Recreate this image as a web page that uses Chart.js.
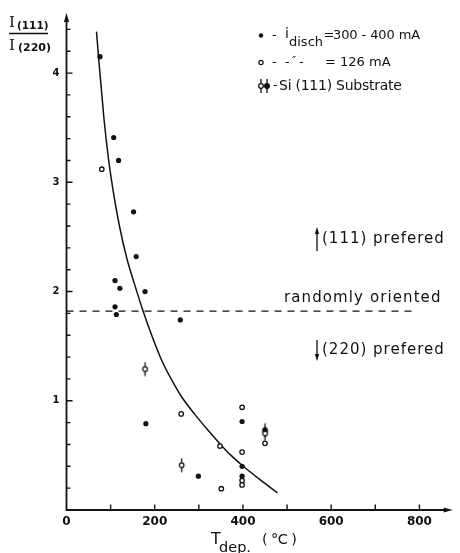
<!DOCTYPE html>
<html>
<head>
<meta charset="utf-8">
<script src="https://cdn.jsdelivr.net/npm/chart.js@4/dist/chart.umd.min.js"></script>
<style>
  html, body { margin: 0; padding: 0; background: #fff; }
  canvas { display: block; }
</style>
</head>
<body>
<canvas id="chart" width="460" height="553"></canvas>
<script>
// Deposition temperature (°C) against the XRD intensity ratio I(111)/I(220)

// discharge current 300-400 mA (filled dots)
const highCurrentT = [76, 107, 118, 152, 158, 110, 121, 178, 110, 113, 258, 180, 398, 299, 398, 398];
const highCurrentR = [4.15, 3.41, 3.20, 2.73, 2.32, 2.10, 2.03, 2.00, 1.86, 1.79, 1.74, 0.79, 0.81, 0.31, 0.40, 0.31];

// discharge current 126 mA (open circles)
const lowCurrentT = [80, 260, 398, 348, 398, 450, 398, 398, 351];
const lowCurrentR = [3.12, 0.88, 0.94, 0.585, 0.53, 0.61, 0.27, 0.23, 0.195];

// films grown on Si(111) substrates (marker with a vertical bar)
const siSubstrateT = [178, 261, 450, 450];
const siSubstrateR = [1.29, 0.41, 0.73, 0.70];
const siSubstrateFilled = [false, false, true, false];

// hand-drawn trend curve
const trendT = [68, 73, 85, 95, 105, 120, 137, 154, 172, 195, 217, 240, 262, 290, 322, 348, 373, 398, 438, 478];
const trendR = [4.38, 4.13, 3.58, 3.22, 2.94, 2.60, 2.30, 2.07, 1.84, 1.58, 1.36, 1.18, 1.03, 0.88, 0.725, 0.605, 0.50, 0.41, 0.28, 0.157];

// ratio of a randomly oriented powder
const randomLevel = 1.82;
const randomSpanT = [0, 787];

const xTickLabels = [0, 200, 400, 600, 800];
const yTickLabels = [1, 2, 3, 4];

const INK = '#111';
const SANS = '"DejaVu Sans", sans-serif';
const SERIF = '"DejaVu Serif", serif';

function toPoints(xs, ys) {
  return xs.map((x, i) => ({ x: x, y: ys[i] }));
}

// circle with a vertical bar through it, used as the Si(111) marker
function drawBarMarker(g, cx, cy, filled) {
  g.save();
  g.strokeStyle = INK;
  g.lineWidth = 1.3;
  g.beginPath(); g.moveTo(cx, cy - 7); g.lineTo(cx, cy + 7); g.stroke();
  g.beginPath(); g.arc(cx, cy, 2.3, 0, Math.PI * 2);
  g.fillStyle = filled ? INK : '#fff';
  g.fill(); g.stroke();
  g.restore();
}
function barMarker(filled) {
  const c = document.createElement('canvas');
  c.width = 9; c.height = 17;
  drawBarMarker(c.getContext('2d'), 4.5, 8.5, filled);
  return c;
}
const openBar = barMarker(false);
const filledBar = barMarker(true);

function textRun(ctx, x, y, str, font, spacing) {
  ctx.font = font;
  ctx.letterSpacing = (spacing || 0) + 'px';
  ctx.fillText(str, x, y);
  const w = ctx.measureText(str).width;
  ctx.letterSpacing = '0px';
  return x + w;
}

function arrowHead(ctx, tipX, tipY, dir, len, half) {
  ctx.beginPath();
  if (dir === 'up') {
    ctx.moveTo(tipX, tipY); ctx.lineTo(tipX - half, tipY + len); ctx.lineTo(tipX + half, tipY + len);
  } else if (dir === 'down') {
    ctx.moveTo(tipX, tipY); ctx.lineTo(tipX - half, tipY - len); ctx.lineTo(tipX + half, tipY - len);
  } else {
    ctx.moveTo(tipX, tipY); ctx.lineTo(tipX - len, tipY - half); ctx.lineTo(tipX - len, tipY + half);
  }
  ctx.closePath();
  ctx.fill();
}

const axesPlugin = {
  id: 'axesAndNotes',
  beforeDatasetsDraw(chart) {
    const ctx = chart.ctx;
    const xs = chart.scales.x, ys = chart.scales.y;
    const x0 = xs.getPixelForValue(0), y0 = ys.getPixelForValue(0);
    const xEnd = xs.getPixelForValue(xs.max) - 2;
    const yEnd = ys.getPixelForValue(ys.max);
    ctx.save();
    ctx.strokeStyle = INK; ctx.fillStyle = INK;
    ctx.lineWidth = 1.8;
    ctx.beginPath();
    ctx.moveTo(x0, y0 + 0.9); ctx.lineTo(x0, yEnd + 6);
    ctx.moveTo(x0 - 0.9, y0); ctx.lineTo(xEnd - 6, y0);
    ctx.stroke();
    arrowHead(ctx, x0, yEnd, 'up', 9, 2.6);
    arrowHead(ctx, xEnd, y0, 'right', 9, 2.6);

    ctx.lineWidth = 1.4;
    ctx.beginPath();
    for (let v = 100; v <= 800; v += 100) {
      const px = xs.getPixelForValue(v);
      ctx.moveTo(px, y0); ctx.lineTo(px, y0 - 5.5);
    }
    for (let k = 1; k <= 22; k++) {
      const v = k * 0.2;
      const py = ys.getPixelForValue(v);
      const len = (k % 5 === 0) ? 6 : 4;
      ctx.moveTo(x0, py); ctx.lineTo(x0 + len, py);
    }
    ctx.stroke();
    ctx.restore();
  },
  afterDraw(chart) {
    const ctx = chart.ctx;
    const ys = chart.scales.y;
    ctx.save();
    ctx.fillStyle = INK; ctx.strokeStyle = INK;
    ctx.textBaseline = 'middle';
    ctx.textAlign = 'left';

    // y-axis title: I(111) / I(220)
    textRun(ctx, 9, 23.5, 'I', '15px ' + SERIF);
    textRun(ctx, 17, 26.5, '(111)', 'bold 10.5px ' + SANS);
    ctx.lineWidth = 1.4;
    ctx.beginPath(); ctx.moveTo(9, 33.5); ctx.lineTo(48, 33.5); ctx.stroke();
    textRun(ctx, 9, 46, 'I', '15px ' + SERIF);
    textRun(ctx, 18, 48, '(220)', 'bold 11px ' + SANS);

    // x-axis title: T dep. (°C)
    textRun(ctx, 211, 539.5, 'T', '16px ' + SANS);
    textRun(ctx, 219, 548.5, 'dep.', '14.5px ' + SANS);
    textRun(ctx, 262, 540.5, '( °C )', '14.5px ' + SANS, -0.6);

    // key
    ctx.beginPath(); ctx.arc(261, 35.5, 2.2, 0, Math.PI * 2); ctx.fill();
    textRun(ctx, 272, 35.5, '-', '13px ' + SANS);
    textRun(ctx, 285, 34, 'i', '14px ' + SANS);
    textRun(ctx, 289, 43, 'disch', '13px ' + SANS);
    textRun(ctx, 323.5, 35.5, '=', '13px ' + SANS);
    textRun(ctx, 333, 35.5, '300 - 400 mA', '13px ' + SANS, -0.1);

    ctx.lineWidth = 1.2;
    ctx.beginPath(); ctx.arc(261, 62.5, 2.1, 0, Math.PI * 2); ctx.stroke();
    textRun(ctx, 272, 62.5, '-', '13px ' + SANS);
    textRun(ctx, 285, 62.5, '-', '13px ' + SANS);
    textRun(ctx, 292, 61, '\u2033', '11px ' + SANS);
    textRun(ctx, 299, 62.5, '-', '13px ' + SANS);
    textRun(ctx, 325, 62.5, '= 126 mA', '13px ' + SANS);

    drawBarMarker(ctx, 261, 86, false);
    drawBarMarker(ctx, 267, 86, true);
    textRun(ctx, 273, 86, '-', '13px ' + SANS);
    textRun(ctx, 279, 86, 'Si (111) Substrate', '14px ' + SANS, -0.25);

    // orientation notes around the random-powder level
    const yRand = ys.getPixelForValue(randomLevel);
    textRun(ctx, 284, yRand - 13, 'randomly oriented', '15px ' + SANS, 1.1);

    ctx.lineWidth = 1.3;
    ctx.beginPath(); ctx.moveTo(317, 251); ctx.lineTo(317, 232); ctx.stroke();
    arrowHead(ctx, 317, 227, 'up', 7, 2.2);
    textRun(ctx, 322, 239, '(111) prefered', '15px ' + SANS, 1.0);

    ctx.beginPath(); ctx.moveTo(317, 340); ctx.lineTo(317, 356); ctx.stroke();
    arrowHead(ctx, 317, 361, 'down', 7, 2.2);
    textRun(ctx, 322, 350, '(220) prefered', '15px ' + SANS, 1.0);

    ctx.restore();
  }
};

new Chart(document.getElementById('chart'), {
  type: 'scatter',
  data: {
    datasets: [
      {
        label: 'trend',
        type: 'line',
        data: toPoints(trendT, trendR),
        borderColor: INK,
        borderWidth: 1.5,
        pointRadius: 0,
        cubicInterpolationMode: 'monotone',
        showLine: true,
        fill: false,
        order: 2
      },
      {
        label: 'random',
        type: 'line',
        data: toPoints(randomSpanT, [randomLevel, randomLevel]),
        borderColor: INK,
        borderWidth: 1.3,
        borderDash: [7, 6],
        pointRadius: 0,
        showLine: true,
        fill: false,
        order: 2
      },
      {
        label: 'i disch = 300-400 mA',
        data: toPoints(highCurrentT, highCurrentR),
        pointStyle: 'circle',
        pointRadius: 2.6,
        backgroundColor: INK,
        borderColor: INK,
        borderWidth: 0,
        order: 0
      },
      {
        label: 'i disch = 126 mA',
        data: toPoints(lowCurrentT, lowCurrentR),
        pointStyle: 'circle',
        pointRadius: 2.2,
        backgroundColor: '#fff',
        borderColor: INK,
        borderWidth: 1.3,
        order: 0
      },
      {
        label: 'Si(111) Substrate',
        data: toPoints(siSubstrateT, siSubstrateR),
        pointStyle: siSubstrateFilled.map(f => f ? filledBar : openBar),
        pointRadius: 4,
        order: 0
      }
    ]
  },
  options: {
    responsive: false,
    animation: false,
    devicePixelRatio: 1,
    layout: { padding: { top: 9.5, right: 1.4, left: 0, bottom: 0 } },
    plugins: { legend: { display: false }, tooltip: { enabled: false } },
    scales: {
      x: {
        type: 'linear',
        min: 0,
        max: 880,
        afterFit(scale) { scale.height = 43; },
        border: { display: false },
        grid: { display: false, drawTicks: false },
        ticks: {
          stepSize: 200,
          autoSkip: false,
          maxRotation: 0,
          padding: 5,
          color: INK,
          font: { family: SANS, size: 12, weight: 'bold' },
          callback: v => xTickLabels.includes(v) ? String(v) : ''
        }
      },
      y: {
        type: 'linear',
        min: 0,
        max: 4.55,
        afterFit(scale) { scale.width = 66.5; },
        border: { display: false },
        grid: { display: false, drawTicks: false },
        ticks: {
          stepSize: 1,
          autoSkip: false,
          padding: 7,
          color: INK,
          font: { family: SANS, size: 10, weight: 'bold' },
          callback: v => yTickLabels.includes(v) ? String(v) : ''
        }
      }
    }
  },
  plugins: [axesPlugin]
});
</script>
</body>
</html>
